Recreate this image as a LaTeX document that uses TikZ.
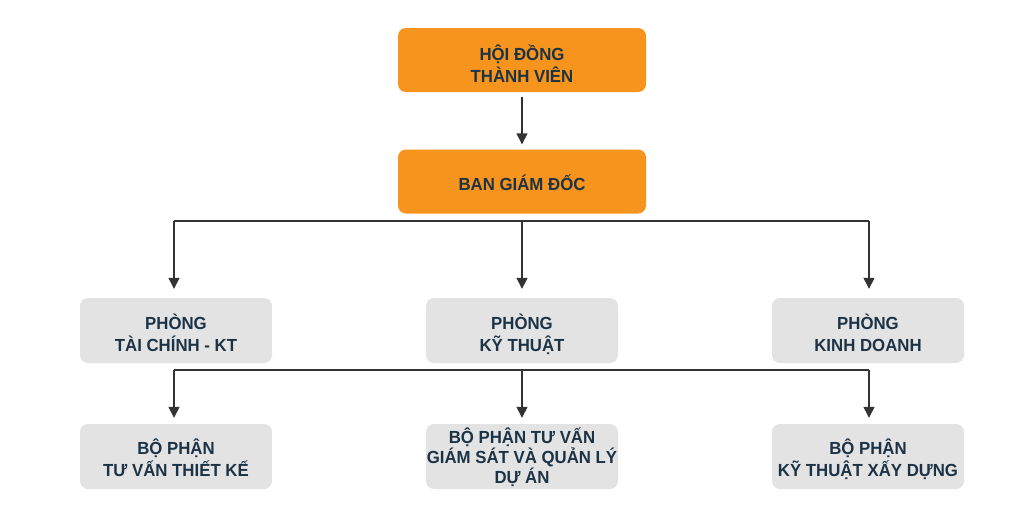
\documentclass[tikz,border=0pt]{standalone}
\usepackage{fontspec}
\setmainfont{Liberation Sans}[FakeStretch=0.96]
\usetikzlibrary{arrows.meta}
\definecolor{orangebox}{HTML}{F7941D}
\definecolor{greybox}{HTML}{E3E3E3}
\definecolor{textnavy}{HTML}{1C3346}
\definecolor{linegrey}{HTML}{333333}
\tikzset{
  box/.style={rounded corners=8pt, minimum width=192pt, minimum height=65pt, inner sep=0pt,
    align=center, font=\fontsize{17.5}{22}\selectfont\bfseries, text=textnavy,
    text height=43pt, text depth=2pt},
  topbox/.style={box, fill=orangebox, minimum width=248pt, minimum height=64pt},
  graybox/.style={box, fill=greybox},
  lowbox/.style={graybox, text height=41pt, text depth=2pt},
  tightbox/.style={graybox, font=\fontsize{17.5}{16}\selectfont\bfseries, text height=55pt, text depth=2pt},
  conn/.style={draw=linegrey, line width=1.4pt},
  arr/.style={conn, -{Triangle[width=11pt,length=11pt]}},
}
\begin{document}
\begin{tikzpicture}[x=1pt,y=-1pt]
\useasboundingbox (0,0) rectangle (1024,517);
\node[topbox, text height=45pt, text depth=1pt] (hdtv) at (522,60) {HỘI ĐỒNG\\THÀNH VIÊN};
\node[topbox, text height=17pt, text depth=0pt] (bgd) at (522,181.5) {BAN GIÁM ĐỐC};
\node[graybox] (p1) at (176,330.5) {PHÒNG\\TÀI CHÍNH - KT};
\node[graybox] (p2) at (522,330.5) {PHÒNG\\KỸ THUẬT};
\node[graybox] (p3) at (868,330.5) {PHÒNG\\KINH DOANH};
\node[lowbox] (b1) at (176,456.5) {BỘ PHẬN\\TƯ VẤN THIẾT KẾ};
\node[tightbox] (b2) at (522,456.5) {BỘ PHẬN TƯ VẤN\\GIÁM SÁT VÀ QUẢN LÝ\\DỰ ÁN};
\node[lowbox] (b3) at (868,456.5) {BỘ PHẬN\\KỸ THUẬT XẤY DỰNG};
\coordinate (h1l) at (174,221);
\coordinate (h1r) at (869,221);
\coordinate (h1m) at (522,221);
\coordinate (h2l) at (174,370);
\coordinate (h2r) at (869,370);
\coordinate (h2m) at (522,370);
\draw[arr] ([yshift=-5pt]hdtv.south) -- ([yshift=5pt]bgd.north);
\draw[conn] (h1l) -- (h1r);
\draw[arr] (h1l) -- ([yshift=9pt]p1.north -| h1l);
\draw[arr] (h1m) -- ([yshift=9pt]p2.north);
\draw[arr] (h1r) -- ([yshift=9pt]p3.north -| h1r);
\draw[conn] (h2l) -- (h2r);
\draw[arr] (h2l) -- ([yshift=6pt]b1.north -| h2l);
\draw[arr] (h2m) -- ([yshift=6pt]b2.north);
\draw[arr] (h2r) -- ([yshift=6pt]b3.north -| h2r);
\end{tikzpicture}
\end{document}
